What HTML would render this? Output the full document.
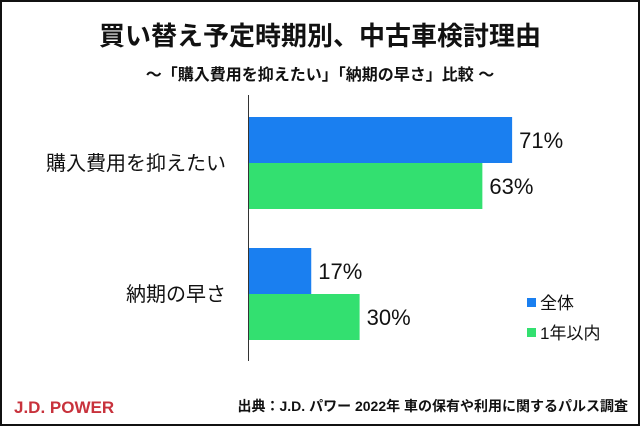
<!DOCTYPE html>
<html><head><meta charset="utf-8"><style>
body{margin:0;width:640px;height:426px;overflow:hidden;background:#fff;font-family:"Liberation Sans","Noto Sans CJK JP",sans-serif}
#frame{position:absolute;left:0;top:0;width:636px;height:422px;border:2px solid #111}
</style></head><body>
<div id="frame"></div>
<svg width="640" height="426" style="position:absolute;left:0;top:0" id="chart">
<text x="320" y="45" text-anchor="middle" font-size="26" font-weight="bold" fill="#111">買い替え予定時期別、中古車検討理由</text>
<text x="320" y="80" text-anchor="middle" font-size="16" font-weight="bold" fill="#111">～「購入費用を抑えたい」「納期の早さ」比較 ～</text>
<line x1="248.5" y1="95" x2="248.5" y2="361" stroke="#333" stroke-width="1"/>
<g id="bars"></g>
<rect x="527" y="298" width="9" height="9" fill="#1a7ff0"/>
<text x="540" y="309" font-size="17" fill="#111">全体</text>
<rect x="527" y="328" width="9" height="9" fill="#33e070"/>
<text x="540" y="339" font-size="17" fill="#111">1年以内</text>
<text x="14" y="413" font-size="17" font-weight="bold" fill="#c8323c">J.D. POWER</text>
<text x="628" y="411" text-anchor="end" font-size="14" font-weight="bold" fill="#111">出典：J.D. パワー 2022年 車の保有や利用に関するパルス調査</text>
</svg>
<script>
const categories=["購入費用を抑えたい","納期の早さ"];
const seriesAll=[71,17];
const seriesYear=[63,30];
const colors=["#1a7ff0","#33e070"];
const x0=248, pxPer=3.72;
const xs=v=>x0+v*pxPer;
const catTop=[117,248];
const g=document.getElementById('bars');
const NS="http://www.w3.org/2000/svg";
categories.forEach((c,i)=>{
  const lab=document.createElementNS(NS,'text');
  lab.setAttribute('x',226);lab.setAttribute('y',catTop[i]+53);
  lab.setAttribute('text-anchor','end');lab.setAttribute('font-size','20');lab.setAttribute('fill','#111');
  lab.textContent=c;
  
  
  g.appendChild(lab);
  [seriesAll[i],seriesYear[i]].forEach((v,j)=>{
    const y=catTop[i]+j*46;
    const r=document.createElementNS(NS,'rect');
    r.setAttribute('x',x0+1);r.setAttribute('y',y);r.setAttribute('width',xs(v)-x0-1);r.setAttribute('height',46);
    r.setAttribute('fill',colors[j]);
    
    
    g.appendChild(r);
    const t=document.createElementNS(NS,'text');
    t.setAttribute('x',xs(v)+7);t.setAttribute('y',y+31);
    t.setAttribute('font-size','22');t.setAttribute('fill','#111');
    t.textContent=v+'%';
    
    
    g.appendChild(t);
  });
});
</script>
</body></html>
